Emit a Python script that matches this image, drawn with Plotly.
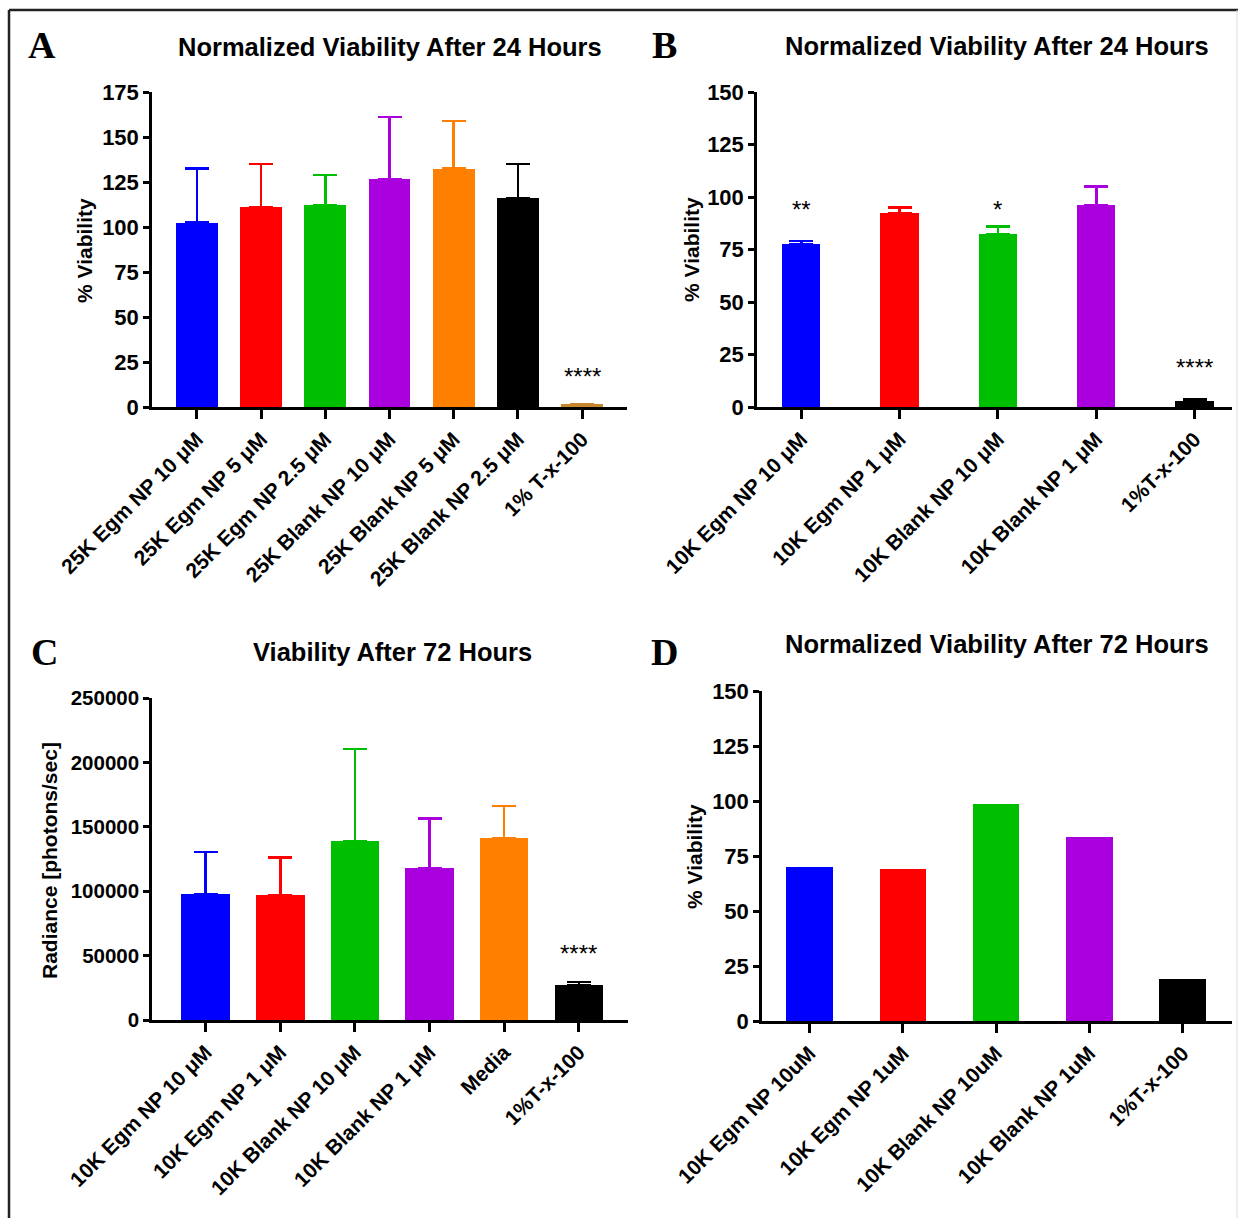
import plotly.graph_objects as go

W, H = 1238, 1218

# ---------------- data ----------------
cats_a = ["25K Egm NP 10 μM", "25K Egm NP 5 μM", "25K Egm NP 2.5 μM", "25K Blank NP 10 μM",
          "25K Blank NP 5 μM", "25K Blank NP 2.5 μM", "1% T-x-100"]
vals_a = [102.5, 111, 112, 126.5, 132.5, 116, 1.5]
errtop_a = [132.5, 135, 129, 161, 159, 135, 1.5]
colors_a = ["#0000ff", "#ff0000", "#00bf00", "#aa00dd", "#ff8000", "#000000", "#c8862e"]

cats_b = ["10K Egm NP 10 μM", "10K Egm NP 1 μM", "10K Blank NP 10 μM", "10K Blank NP 1 μM", "1%T-x-100"]
vals_b = [77.5, 92.5, 82.5, 96, 3]
errtop_b = [79, 95, 86, 105, 3.8]
colors_b = ["#0000ff", "#ff0000", "#00bf00", "#aa00dd", "#000000"]

cats_c = ["10K Egm NP 10 μM", "10K Egm NP 1 μM", "10K Blank NP 10 μM", "10K Blank NP 1 μM", "Media", "1%T-x-100"]
vals_c = [98000, 97000, 139000, 118000, 141000, 27000]
errtop_c = [130500, 126000, 210500, 156500, 166000, 29500]
colors_c = ["#0000ff", "#ff0000", "#00bf00", "#aa00dd", "#ff8000", "#000000"]

cats_d = ["10K Egm NP 10uM", "10K Egm NP 1uM", "10K Blank NP 10uM", "10K Blank NP 1uM", "1%T-x-100"]
vals_d = [70, 69, 98.5, 83.5, 19]
colors_d = ["#0000ff", "#ff0000", "#00bf00", "#aa00dd", "#000000"]

# significance marks: (category index, y value, text)
sig_a = [(6, 17, "****")]
sig_b = [(0, 94, "**"), (2, 94, "*"), (4, 19, "****")]
sig_c = [(5, 52000, "****")]

# ---------------- layout helpers ----------------
def xdom(x0, x1):
    return [x0 / W, x1 / W]

def ydom(ybottom, ytop):
    return [1 - ybottom / H, 1 - ytop / H]

FONT = "Liberation Sans, Arial, sans-serif"
fig = go.Figure()

panels = [
    ("", cats_a, vals_a, errtop_a, colors_a, xdom(152, 627), ydom(407, 92), [0, 175], 25, [-0.7, 6.7], 0.65, sig_a, 22),
    ("2", cats_b, vals_b, errtop_b, colors_b, xdom(757, 1232), ydom(407, 92), [0, 150], 25, [-0.45, 4.38], 0.39, sig_b, 22),
    ("3", cats_c, vals_c, errtop_c, colors_c, xdom(152, 628), ydom(1020, 698), [0, 250000], 50000, [-0.72, 5.66], 0.65, sig_c, 20.5),
    ("4", cats_d, vals_d, None, colors_d, xdom(762, 1232), ydom(1021, 691), [0, 150], 25, [-0.51, 4.53], 0.5, [], 22),
]

layout_axes = {}
annotations = []
for suf, cats, vals, errtop, cols, xd, yd, yr, dt, xr, bw, sig, yfs in panels:
    xa = "x" + suf
    ya = "y" + suf
    idx = list(range(len(cats)))
    if errtop is not None:
        # one trace per bar so each error bar takes its bar's colour
        for i in idx:
            fig.add_trace(go.Bar(
                x=[i], y=[vals[i]], width=bw, marker=dict(color=cols[i], line=dict(width=0)),
                error_y=dict(type="data", symmetric=False, array=[errtop[i] - vals[i]],
                             arrayminus=[0], thickness=2.5, width=12, color=cols[i]),
                xaxis=xa, yaxis=ya, showlegend=False))
    else:
        fig.add_trace(go.Bar(x=idx, y=vals, width=bw, marker=dict(color=cols, line=dict(width=0)),
                             xaxis=xa, yaxis=ya, showlegend=False))
    for ci, yv, txt in sig:
        annotations.append(dict(x=ci, y=yv, xref=xa, yref=ya, text=txt, showarrow=False,
                                font=dict(family=FONT, size=24, color="black"), yanchor="middle"))
    xkey = "xaxis" + suf
    ykey = "yaxis" + suf
    layout_axes[xkey] = dict(domain=xd, anchor=ya, range=xr, tickmode="array", tickvals=idx, ticktext=cats,
                             tickangle=-45, showgrid=False, zeroline=False, showline=True, automargin=False,
                             linecolor="black", linewidth=2.5, ticks="outside", ticklen=9, tickwidth=2.5,
                             tickcolor="black",
                             tickfont=dict(family=FONT, size=21, color="black", weight="bold"))
    layout_axes[ykey] = dict(domain=yd, anchor=xa, range=yr, dtick=dt, tick0=0, tickformat="d",
                             showgrid=False, zeroline=False, showline=True, linecolor="black", automargin=False,
                             linewidth=2.5, ticks="outside", ticklen=6, tickwidth=2.5, tickcolor="black",
                             tickfont=dict(family=FONT, size=yfs, color="black", weight="bold"))

# y-axis titles
ytitles = [("% Viability", 85, 250), ("% Viability", 692, 250),
           ("Radiance [photons/sec]", 49, 861), ("% Viability", 694, 856)]
for t, px, py in ytitles:
    annotations.append(dict(x=px / W, y=1 - py / H, xref="paper", yref="paper", text="<b>%s</b>" % t,
                            textangle=-90, showarrow=False, xanchor="center", yanchor="middle",
                            font=dict(family=FONT, size=21, color="black")))

# titles
titles = [
    ("Normalized Viability After 24 Hours", 390, 47),
    ("Normalized Viability After 24 Hours", 997, 46),
    ("Viability After 72 Hours", 392, 652),
    ("Normalized Viability After 72 Hours", 997, 644),
]
for t, px, py in titles:
    annotations.append(dict(x=px / W, y=1 - py / H, xref="paper", yref="paper", text="<b>%s</b>" % t,
                            showarrow=False, xanchor="center", yanchor="middle",
                            font=dict(family=FONT, size=25.5, color="black")))

letters = [("A", 42, 45), ("B", 664, 45), ("C", 44, 652), ("D", 664, 652)]
for t, px, py in letters:
    annotations.append(dict(x=px / W, y=1 - py / H, xref="paper", yref="paper", text="<b>%s</b>" % t,
                            showarrow=False, xanchor="center", yanchor="middle",
                            font=dict(family="Liberation Serif, Times New Roman, serif", size=38, color="black")))

shapes = [
    dict(type="line", xref="paper", yref="paper", x0=9 / W, x1=1, y0=1 - 10 / H, y1=1 - 10 / H,
         line=dict(color="#222222", width=2.5)),
    dict(type="line", xref="paper", yref="paper", x0=9 / W, x1=9 / W, y0=0, y1=1 - 10 / H,
         line=dict(color="#222222", width=2.5)),
    dict(type="line", xref="paper", yref="paper", x0=1237 / W, x1=1237 / W, y0=0, y1=1 - 10 / H,
         line=dict(color="#dddddd", width=1)),
]

fig.update_layout(width=W, height=H, margin=dict(l=0, r=0, t=0, b=0, autoexpand=False),
                  paper_bgcolor="white", plot_bgcolor="white", bargap=0,
                  annotations=annotations, shapes=shapes, showlegend=False,
                  font=dict(family=FONT, color="black"), **layout_axes)

fig.write_html("out.html")
